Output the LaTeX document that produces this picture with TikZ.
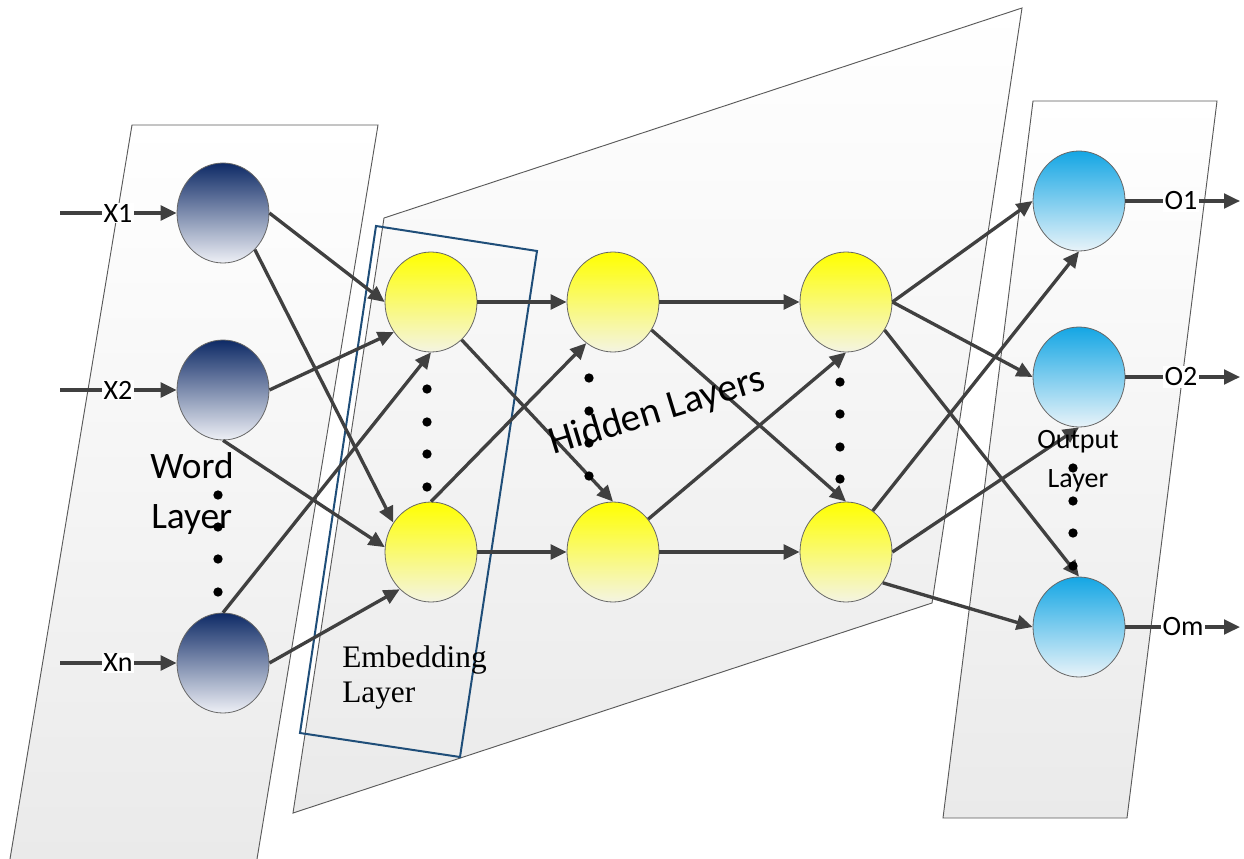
\documentclass[tikz,border=0pt]{standalone}
\usepackage{fontspec}
\newfontfamily\labelfont{Carlito}
\newfontfamily\serifface{Liberation Serif}
\usetikzlibrary{arrows.meta,shapes.geometric}

\definecolor{linkgray}{HTML}{404040}
\definecolor{panelline}{HTML}{5A5A5A}
\definecolor{embedblue}{HTML}{1F4E79}
\definecolor{wordtop}{HTML}{0E2A66}
\definecolor{wordbot}{HTML}{EEF0F6}
\definecolor{hidtop}{HTML}{FFFF00}
\definecolor{hidbot}{HTML}{F4F4E2}
\definecolor{outtop}{HTML}{14A6E4}
\definecolor{outbot}{HTML}{E8F3F9}
\definecolor{panelbot}{HTML}{EAEAEA}

\begin{document}
\begin{tikzpicture}[x=0.75pt,y=-0.75pt,
  link/.style={draw=linkgray, line width=2.5pt,
    -{Triangle[length=12pt,width=11pt]}},
  neuron/.style={ellipse, draw=black!60, line width=0.6pt,
    minimum width=69pt, minimum height=75pt, inner sep=0pt},
  wordn/.style={neuron, top color=wordtop, bottom color=wordbot},
  hidn/.style={neuron, top color=hidtop, bottom color=hidbot},
  outn/.style={neuron, top color=outtop, bottom color=outbot},
  panel/.style={draw=panelline, line width=0.7pt},
  panelfill/.style={top color=white, bottom color=panelbot},
  dotmark/.style={circle, fill=black, inner sep=0pt, minimum size=7pt},
  iolabel/.style={fill=white, inner sep=1pt, font=\labelfont\fontsize{21}{24}\selectfont},
]
\useasboundingbox (0,0) rectangle (1244,859);

% layer panels
\path[panelfill] (132,125) -- (378,125) -- (257,859) -- (10,859) -- cycle;
\draw[panel] (10,859) -- (132,125) -- (378,125) -- (257,859);
\path[panel, panelfill] (384,218) -- (1022,8) -- (932,603) -- (293,813) -- cycle;
\path[panel, panelfill] (1033,101) -- (1217,101) -- (1127,818) -- (943,818) -- cycle;

% embedding layer frame
\draw[embedblue, line width=1.5pt] (376,226) -- (537,251) -- (460,757) -- (300,733) -- cycle;

% neurons
\node[wordn] (X1) at (223,213) {};
\node[wordn] (X2) at (223,390) {};
\node[wordn] (Xn) at (223,663) {};
\node[hidn] (E1) at (431,302) {};
\node[hidn] (E2) at (431,552) {};
\node[hidn] (H1) at (613,302) {};
\node[hidn] (H2) at (613,552) {};
\node[hidn] (G1) at (846,302) {};
\node[hidn] (G2) at (846,552) {};
\node[outn] (O1) at (1079,201) {};
\node[outn] (O2) at (1079,377) {};
\node[outn] (Om) at (1079,627) {};

% inputs and outputs
\coordinate (in1) at (60,213);
\coordinate (in2) at (60,390);
\coordinate (inn) at (60,663);
\coordinate (out1) at (1240,201);
\coordinate (out2) at (1240,377);
\coordinate (outm) at (1240,627);
\draw[link] (in1) -- (X1.west);
\draw[link] (in2) -- (X2.west);
\draw[link] (inn) -- (Xn.west);
\draw[link] (O1.east) -- (out1);
\draw[link] (O2.east) -- (out2);
\draw[link] (Om.east) -- (outm);
\node[iolabel] (lx1) at (118,213) {X1};
\node[iolabel] (lx2) at (118,390) {X2};
\node[iolabel] (lxn) at (118,663) {Xn};
\node[iolabel] (lo1) at (1181,201) {O1};
\node[iolabel] (lo2) at (1181,377) {O2};
\node[iolabel] (lom) at (1183,627) {Om};

% word -> embedding
\draw[link] (X1.east) -- (E1.west);
\draw[link] (X1.-49) -- (E2.142);
\draw[link] (X2.east) -- (E1.-141);
\draw[link] (X2.south) -- (E2.174);
\draw[link] (Xn.north) -- (E1.south);
\draw[link] (Xn.east) -- (E2.-130);
% embedding -> hidden
\draw[link] (E1.east) -- (H1.west);
\draw[link] (E1.-51) -- (H2.north);
\draw[link] (E2.north) -- (H1.-123);
\draw[link] (E2.east) -- (H2.west);
% hidden -> hidden
\draw[link] (H1.east) -- (G1.west);
\draw[link] (H1.-36) -- (G2.north);
\draw[link] (H2.43) -- (G1.south);
\draw[link] (H2.east) -- (G2.west);
% hidden -> output
\draw[link] (G1.east) -- (O1.west);
\draw[link] (G1.east) -- (O2.west);
\draw[link] (G1.-36) -- (Om.north);
\draw[link] (G2.57) -- (O1.south);
\draw[link] (G2.east) -- (O2.south);
\draw[link] (G2.-40) -- (Om.west);

% ellipsis dots
\foreach \y [count=\i] in {495,527,559,592} \node[dotmark] (dw\i) at (218,\y) {};
\foreach \y [count=\i] in {389,422,454,487} \node[dotmark] (de\i) at (427,\y) {};
\foreach \y [count=\i] in {378,411,443,476} \node[dotmark] (dh\i) at (589,\y) {};
\foreach \y [count=\i] in {382,414,447,479} \node[dotmark] (dg\i) at (840,\y) {};
\foreach \y [count=\i] in {468,501,533,566} \node[dotmark] (do\i) at (1073,\y) {};

% layer captions
\node[anchor=base west, inner sep=0pt, font=\labelfont\fontsize{28}{32}\selectfont] (wordA) at (150,478) {Word};
\node[anchor=base west, inner sep=0pt, font=\labelfont\fontsize{28}{32}\selectfont] (wordB) at (151,528) {Layer};
\node[anchor=base west, inner sep=0pt, rotate=17, font=\labelfont\fontsize{29.5}{34}\selectfont] (hid) at (553,455) {Hidden Layers};
\node[anchor=base, inner sep=0pt, font=\labelfont\fontsize{21}{24}\selectfont] (outA) at (1078,448) {Output};
\node[anchor=base, inner sep=0pt, font=\labelfont\fontsize{21}{24}\selectfont] (outB) at (1078,487) {Layer};
\node[anchor=base west, inner sep=0pt, font=\serifface\fontsize{23.5}{27}\selectfont] (embA) at (342,667) {Embedding};
\node[anchor=base west, inner sep=0pt, font=\serifface\fontsize{23.5}{27}\selectfont] (embB) at (342,702) {Layer};
\end{tikzpicture}
\end{document}
